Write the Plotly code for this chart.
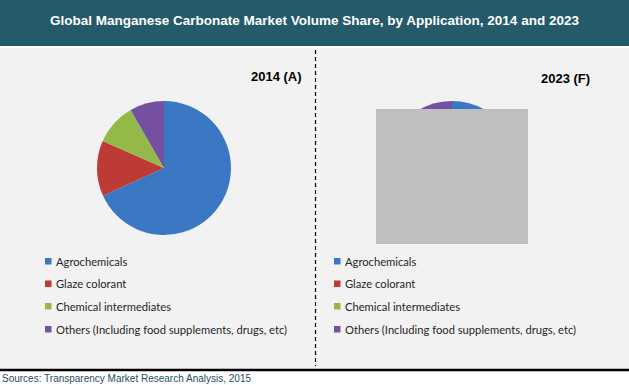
import plotly.graph_objects as go

W, H = 629, 385

title = "Global Manganese Carbonate Market Volume Share, by Application, 2014 and 2023"
source = "Sources: Transparency Market Research Analysis, 2015"
categories = ["Agrochemicals", "Glaze colorant", "Chemical intermediates",
              "Others (Including food supplements, drugs, etc)"]
values_2014 = [68.2, 13.4, 10.1, 8.3]
values_2023 = [66.0, 14.0, 11.0, 9.0]
panel_labels = ["2014 (A)", "2023 (F)"]
colors = ["#3A78C3", "#BE3A35", "#93B948", "#7650A0"]


def px(x):
    return x / W


def py(y):
    return 1 - y / H


fig = go.Figure()

pie_boxes = [(97, 231, 101, 235), (385, 519, 101, 235)]
for vals, (x0, x1, y0, y1) in zip([values_2014, values_2023], pie_boxes):
    fig.add_trace(go.Pie(
        labels=categories, values=vals, sort=False, direction="clockwise",
        rotation=0, textinfo="none", hoverinfo="label+percent",
        marker=dict(colors=colors, line=dict(width=0)),
        domain=dict(x=[px(x0), px(x1)], y=[py(y1), py(y0)]),
        showlegend=False,
    ))

shapes = []
# title bar
shapes.append(dict(type="rect", xref="paper", yref="paper", x0=0, x1=1,
                   y0=py(46), y1=1, fillcolor="#245A69", line=dict(width=0), layer="below"))
# light panel
shapes.append(dict(type="rect", xref="paper", yref="paper", x0=0, x1=1,
                   y0=py(369), y1=py(48), fillcolor="#F2F2F2", line=dict(width=0), layer="below"))
# bottom black line
shapes.append(dict(type="line", xref="paper", yref="paper", x0=0, x1=1,
                   y0=py(370), y1=py(370), line=dict(color="black", width=2.5)))
# dashed divider
shapes.append(dict(type="line", xref="paper", yref="paper", x0=px(315.5), x1=px(315.5),
                   y0=py(50), y1=py(366), line=dict(color="black", width=1.2, dash="4px,3px")))
# grey masking box over the 2023 pie
shapes.append(dict(type="rect", xref="paper", yref="paper", x0=px(376), x1=px(528),
                   y0=py(244), y1=py(109), fillcolor="#BFBFBF", line=dict(width=0), layer="above"))

annotations = [
    dict(text="<b>" + title + "</b>", x=px(315), y=py(20), xref="paper", yref="paper",
         showarrow=False, xanchor="center", yanchor="middle",
         font=dict(family="Liberation Sans, Arial", size=13.5, color="white")),
    dict(text=source, x=0, y=py(378), xref="paper", yref="paper", showarrow=False,
         xanchor="left", yanchor="middle",
         font=dict(family="Liberation Sans, Arial", size=10, color="#24505F")),
    dict(text="<b>" + panel_labels[0] + "</b>", x=px(304), y=py(77), xref="paper", yref="paper",
         showarrow=False, xanchor="right", yanchor="middle",
         font=dict(family="Liberation Sans, Arial", size=13, color="black")),
    dict(text="<b>" + panel_labels[1] + "</b>", x=px(592), y=py(78), xref="paper", yref="paper",
         showarrow=False, xanchor="right", yanchor="middle",
         font=dict(family="Liberation Sans, Arial", size=13, color="black")),
]

row_y = [261, 283.5, 306, 329]
for (sq_x, tx_x) in [(45, 54), (334, 343)]:
    for cat, col, yy in zip(categories, colors, row_y):
        shapes.append(dict(type="rect", xref="paper", yref="paper",
                           x0=px(sq_x), x1=px(sq_x + 6.5), y0=py(yy + 3.5), y1=py(yy - 3),
                           fillcolor=col, line=dict(width=0)))
        annotations.append(dict(text=cat, x=px(tx_x), y=py(yy), xref="paper", yref="paper",
                                showarrow=False, xanchor="left", yanchor="middle",
                                font=dict(family="Lato, Noto Sans", size=11.2, color="#262626")))

fig.update_layout(
    width=W, height=H, margin=dict(l=0, r=0, t=0, b=0),
    paper_bgcolor="white", plot_bgcolor="white",
    shapes=shapes, annotations=annotations, showlegend=False,
)

fig.write_html("out.html", config={"displayModeBar": False},
               post_script="document.body.style.margin='0px';document.body.style.overflow='hidden';")
